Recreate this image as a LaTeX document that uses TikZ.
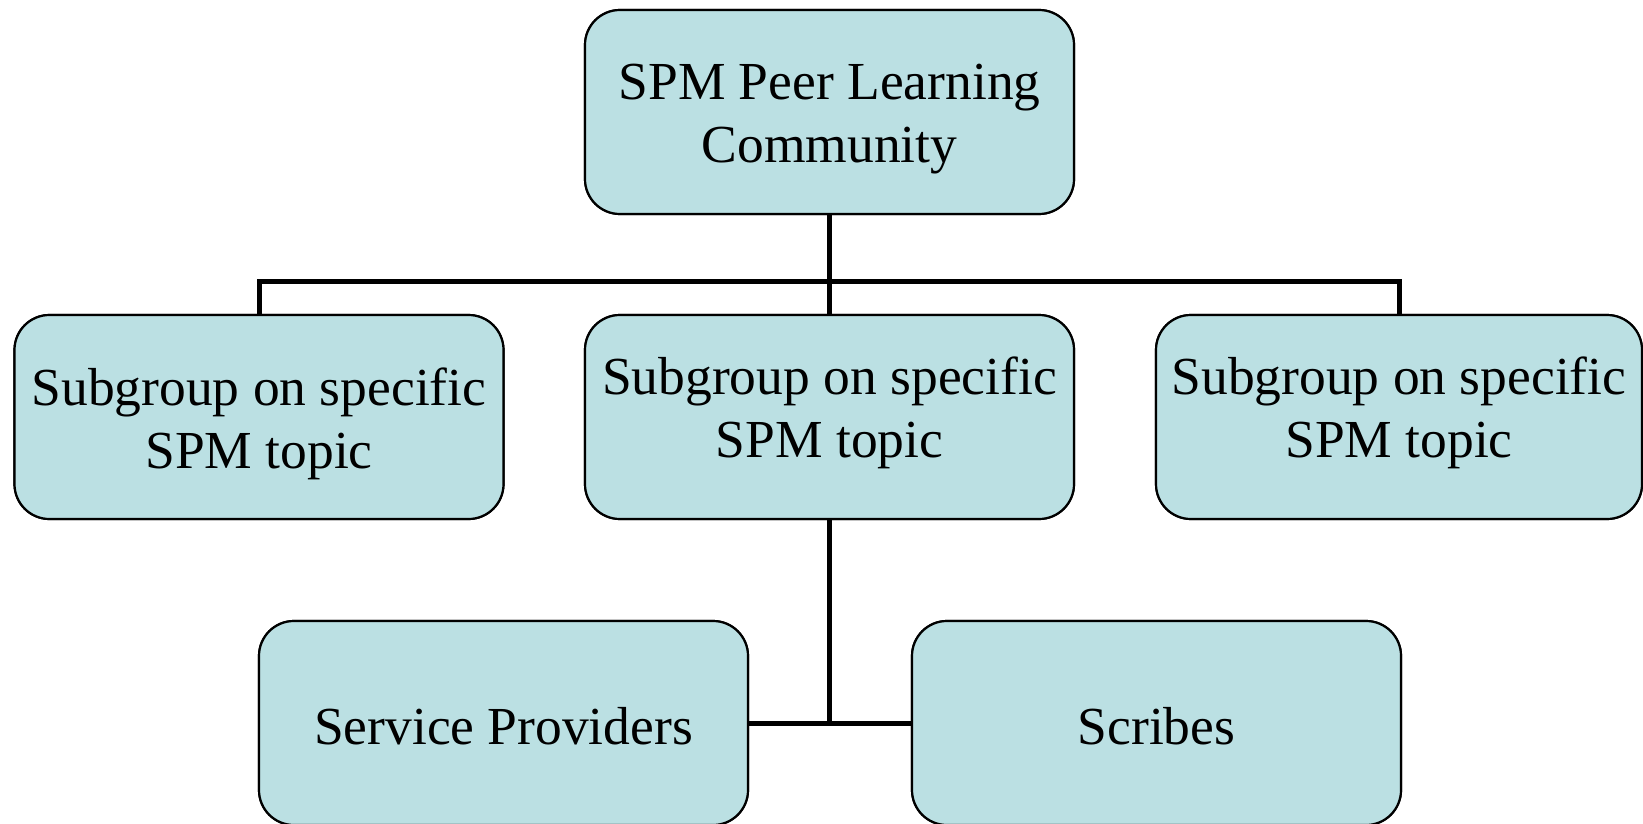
\documentclass[tikz,border=0pt]{standalone}
\usepackage{fontspec}
\setmainfont{Liberation Serif}
\definecolor{boxfill}{RGB}{187,224,227}
\begin{document}
\begin{tikzpicture}[x=1pt,y=1pt,
  box/.style={draw=black, line width=2.2pt, fill=boxfill, rounded corners=35pt,
    rectangle, inner sep=0pt, minimum width=489pt, minimum height=204pt},
  lbl/.style={align=center, inner sep=0pt, font=\fontsize{53.5}{63}\selectfont},
  conn/.style={draw=black, line width=5pt}]
\useasboundingbox (0,0) rectangle (1643,-824);
% boxes
\node[box] (top) at (829.5,-112) {};
\node[box] (left) at (259,-417) {};
\node[box] (mid) at (829.5,-417) {};
\node[box, minimum width=486pt] (right) at (1399,-417) {};
\node[box] (sp) at (503.5,-723) {};
\node[box] (sc) at (1156.5,-723) {};
% connectors
\coordinate (bus) at (829.5,-281);
\draw[conn] (top.south) -- (mid.north);
\draw[conn] (left.north) -- (left.north |- bus) -- (right.north |- bus) -- (right.north);
\draw[conn] (mid.south) -- (mid.south |- sp.east);
\draw[conn] (sp.east) -- (sc.west);
% redraw boxes on top of connector ends
\node[box] at (top) {};
\node[box] at (left) {};
\node[box] at (mid) {};
\node[box, minimum width=486pt] at (right) {};
\node[box] at (sp) {};
\node[box] at (sc) {};
% labels
\node[lbl] (ttop) at ([yshift=-7pt]top.center) {SPM Peer Learning\\Community};
\node[lbl] (tleft) at ([yshift=-7pt]left.center) {Subgroup on specific\\SPM topic};
\node[lbl] (tmid) at ([yshift=4pt]mid.center) {Subgroup on specific\\SPM topic};
\node[lbl] (tright) at ([yshift=4pt]right.center) {Subgroup on specific\\SPM topic};
\node[lbl] (tsp) at ([yshift=-3pt]sp.center) {Service Providers};
\node[lbl] (tsc) at ([yshift=-3pt]sc.center) {Scribes};
\end{tikzpicture}
\end{document}
